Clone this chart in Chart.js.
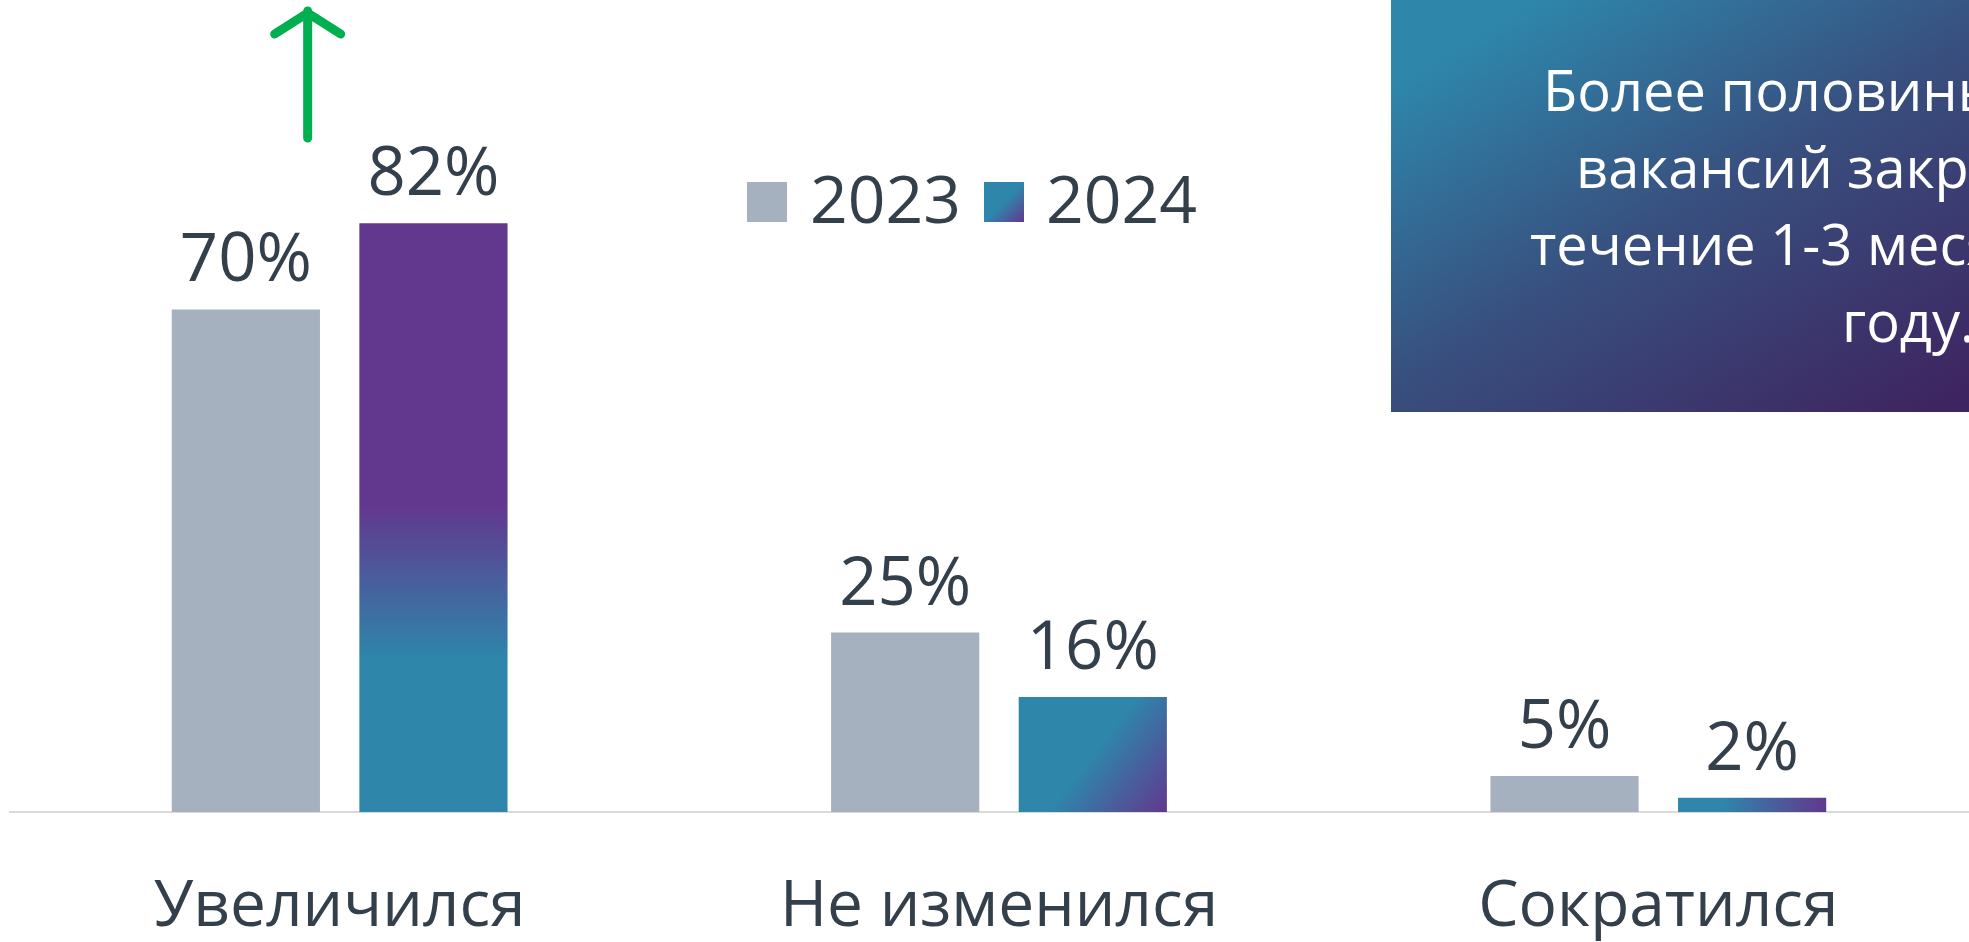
<!DOCTYPE html>
<html>
<head>
<meta charset="utf-8">
<script src="https://cdn.jsdelivr.net/npm/chart.js@4"></script>
<style>
  html, body { margin: 0; padding: 0; background: #fff; overflow: hidden; }
  #wrap { width: 2000px; height: 942px; position: relative; }
</style>
</head>
<body>
<div id="wrap"><canvas id="chart"></canvas></div>
<script>
// Chart data
const categories = ['Увеличился', 'Не изменился', 'Сократился'];
const seriesLabels = ['2023', '2024'];
const values2023 = [70, 25, 5];
const values2024 = [82, 16, 2];
const calloutLines = [
  'Более половины всех',
  'вакансий закрываются в',
  'течение 1-3 месяцев в 2024',
  'году.'
];

const GREY = '#a5b1bf';
const TEAL = '#2e86ab';
const PURPLE = '#62388e';
const TEXT = '#333f4b';
const FONT = '"Open Sans", "DejaVu Sans", sans-serif';
const CAT_PCT = 0.569;
const BAR_PCT = 0.79;

/**
 * Gradient for the 2024 bars, computed from the scale geometry
 */
function barGradient(context) {
  const chart = context.chart;
  const xs = chart.scales.x;
  const ys = chart.scales.y;
  if (!xs || !ys || context.dataIndex === undefined) return TEAL;
  const i = context.dataIndex;
  const slot = (xs.width / categories.length) * CAT_PCT / 2;
  const w = slot * BAR_PCT;
  const cx = xs.getPixelForValue(i) + slot / 2;
  const left = cx - w / 2, right = cx + w / 2;
  const top = ys.getPixelForValue(values2024[i]);
  const base = ys.getPixelForValue(0);
  if (![left, right, top, base].every(Number.isFinite) || right <= left) return TEAL;
  const c = chart.ctx;
  let g;
  if (i === 0) {
    g = c.createLinearGradient(0, base, 0, top);
    g.addColorStop(0, TEAL);
    g.addColorStop(0.26, TEAL);
    g.addColorStop(0.52, PURPLE);
    g.addColorStop(1, PURPLE);
  } else if (i === 1) {
    g = c.createLinearGradient(left, top, right, base);
    g.addColorStop(0, TEAL);
    g.addColorStop(0.5, TEAL);
    g.addColorStop(1, PURPLE);
  } else {
    g = c.createLinearGradient(left, 0, right, 0);
    g.addColorStop(0, TEAL);
    g.addColorStop(0.3, TEAL);
    g.addColorStop(1, PURPLE);
  }
  return g;
}

// value labels above bars
const valueLabels = {
  id: 'valueLabels',
  afterDatasetsDraw(chart) {
    const c = chart.ctx;
    c.save();
    c.font = '67px ' + FONT;
    c.fillStyle = TEXT;
    c.textAlign = 'center';
    c.textBaseline = 'alphabetic';
    chart.data.datasets.forEach((ds, di) => {
      chart.getDatasetMeta(di).data.forEach((bar, i) => {
        c.fillText(ds.data[i] + '%', bar.x, bar.y - 28);
      });
    });
    c.restore();
  }
};

// legend inside the plot + green arrow + callout box
const decorations = {
  id: 'decorations',
  afterDraw(chart) {
    const c = chart.ctx;
    c.save();

    // legend
    const legendX = 747, legendY = 182, box = 40;
    c.font = '66px ' + FONT;
    c.textBaseline = 'alphabetic';
    c.textAlign = 'left';
    c.fillStyle = GREY;
    c.fillRect(legendX, legendY, box, box);
    c.fillStyle = TEXT;
    c.fillText(seriesLabels[0], legendX + 63, legendY + 41);
    const x2 = legendX + 237;
    const lg = c.createLinearGradient(x2, legendY, x2 + box, legendY + box);
    lg.addColorStop(0, TEAL);
    lg.addColorStop(0.5, TEAL);
    lg.addColorStop(1, PURPLE);
    c.fillStyle = lg;
    c.fillRect(x2, legendY, box, box);
    c.fillStyle = TEXT;
    c.fillText(seriesLabels[1], x2 + 62, legendY + 41);

    // green arrow over the first group
    const ax = chart.scales.x.getPixelForValue(0) - 32;
    c.strokeStyle = '#00b050';
    c.lineWidth = 9;
    c.lineCap = 'round';
    c.lineJoin = 'round';
    c.beginPath();
    c.moveTo(ax, 138);
    c.lineTo(ax, 11);
    c.moveTo(ax - 33, 34);
    c.lineTo(ax, 13);
    c.lineTo(ax + 33, 34);
    c.stroke();

    // callout box
    const bx = 1391, bw = 1100, bh = 412;
    const bg = c.createLinearGradient(1470, 40, 1760, 520);
    bg.addColorStop(0, '#2e86ab');
    bg.addColorStop(0.45, '#38507f');
    bg.addColorStop(1, '#3e2460');
    c.fillStyle = bg;
    c.fillRect(bx, 0, bw, bh);
    c.fillStyle = '#ffffff';
    c.font = '56px ' + FONT;
    const starts = [1543, 1576, 1530, 1842];
    calloutLines.forEach((line, k) => {
      c.fillText(line, starts[k], 111 + k * 77);
    });

    c.restore();
  }
};

const ctx = document.getElementById('chart');
const chart = new Chart(ctx, {
  type: 'bar',
  data: {
    labels: categories,
    datasets: [
      {
        label: seriesLabels[0],
        data: values2023,
        backgroundColor: GREY,
        categoryPercentage: CAT_PCT,
        barPercentage: BAR_PCT
      },
      {
        label: seriesLabels[1],
        data: values2024,
        backgroundColor: barGradient,
        categoryPercentage: CAT_PCT,
        barPercentage: BAR_PCT
      }
    ]
  },
  options: {
    responsive: true,
    maintainAspectRatio: false,
    devicePixelRatio: 1,
    animation: false,
    layout: {
      padding: { left: 10, right: 12, top: 94, bottom: -62 }
    },
    plugins: {
      legend: { display: false },
      tooltip: { enabled: false }
    },
    scales: {
      y: {
        display: false,
        min: 0,
        max: 100
      },
      x: {
        grid: { display: false, drawTicks: false },
        border: { display: true, color: '#d9d9d9', width: 2 },
        ticks: {
          color: TEXT,
          padding: 64,
          font: { family: FONT, size: 64, lineHeight: 1 }
        }
      }
    }
  },
  plugins: [valueLabels, decorations]
});
chart.update();
</script>
</body>
</html>
